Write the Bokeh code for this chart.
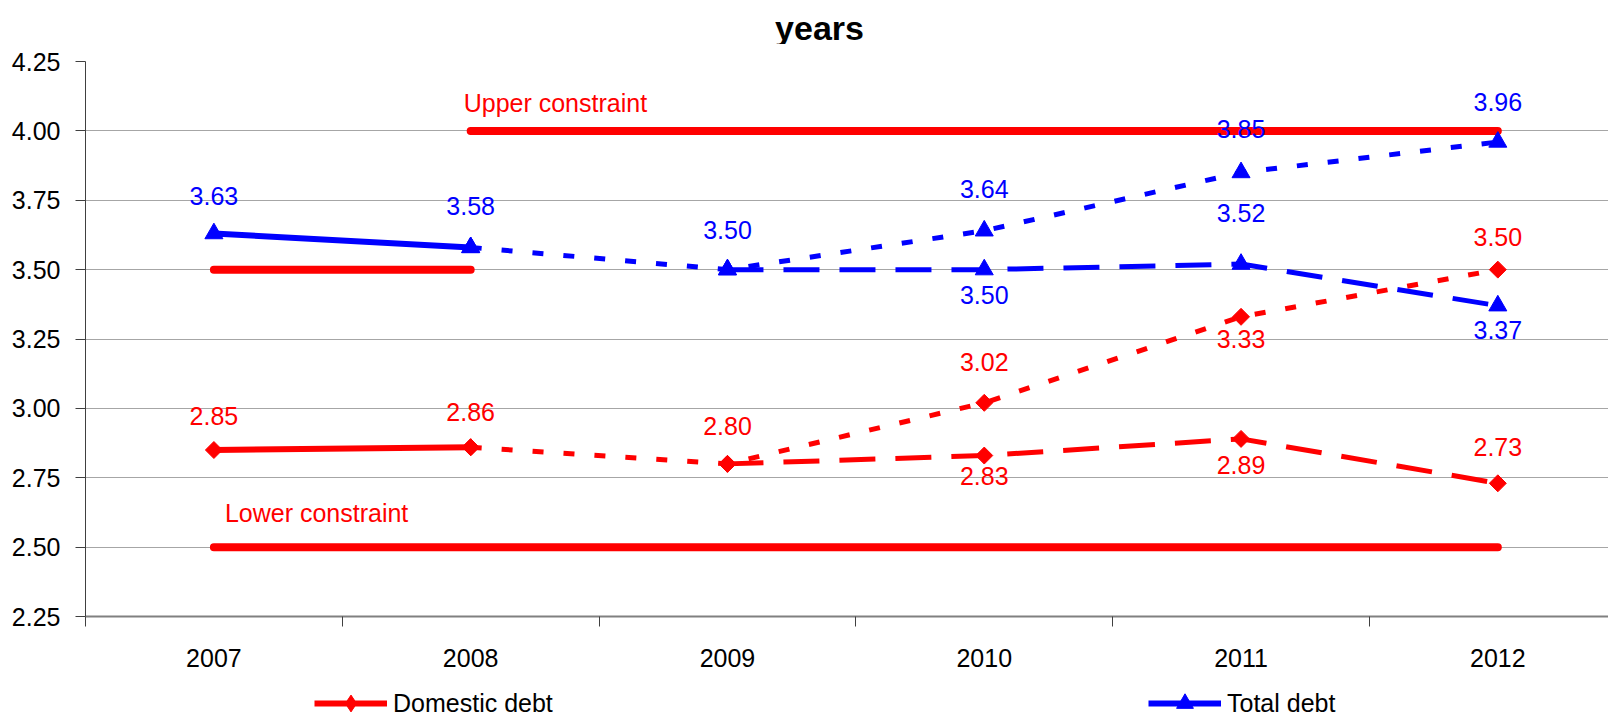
from bokeh.plotting import figure
from bokeh.layouts import column
from bokeh.models import Range1d, FixedTicker, ColumnDataSource, Legend, LegendItem, PrintfTickFormatter, Label
from bokeh.core.properties import value
from bokeh.embed import file_html
from bokeh.resources import INLINE

# ---------------- data ----------------
years = ["2007", "2008", "2009", "2010", "2011", "2012"]
y_ticks = [2.25, 2.50, 2.75, 3.00, 3.25, 3.50, 3.75, 4.00, 4.25]

# Domestic debt (years 2007-2008 actual, then two scenarios)
domestic_actual_years = ["2007", "2008"]
domestic_actual = [2.85, 2.86]
domestic_up_years = ["2008", "2009", "2010", "2011", "2012"]
domestic_up = [2.86, 2.80, 3.02, 3.33, 3.50]
domestic_low_years = ["2009", "2010", "2011", "2012"]
domestic_low = [2.80, 2.83, 2.89, 2.73]

# Total debt
total_actual_years = ["2007", "2008"]
total_actual = [3.63, 3.58]
total_up_years = ["2008", "2009", "2010", "2011", "2012"]
total_up = [3.58, 3.50, 3.64, 3.85, 3.96]
total_low_years = ["2009", "2010", "2011", "2012"]
total_low = [3.50, 3.50, 3.52, 3.37]

# Constraints
upper_a_years = ["2007", "2008"]
upper_a = [3.50, 3.50]
upper_b_years = ["2008", "2009", "2010", "2011", "2012"]
upper_b = [4.00, 4.00, 4.00, 4.00, 4.00]
lower_years = ["2007", "2008", "2009", "2010", "2011", "2012"]
lower = [2.50, 2.50, 2.50, 2.50, 2.50, 2.50]

# label vertical offsets (px, style only)
dom_label_off = {"actual": [-34, -35], "up": [None, -38, -41, 22, -33], "low": [None, 20, 26, -36]}
tot_label_off = {"actual": [-38, -41], "up": [None, -40, -42, -44, -40], "low": [None, 25, -51, 24]}

TITLE = "years"
FONT = "Liberation Sans"
FS = "25px"
RED = "#FF0000"
BLUE = "#0000FF"


def xs(ys):
    return [years.index(y) + 0.5 for y in ys]


def blank(fig):
    fig.axis.visible = False
    fig.grid.visible = False
    fig.outline_line_color = None
    fig.border_fill_color = "white"
    fig.background_fill_color = "white"


# ---------------- title row ----------------
tfig = figure(width=1608, height=44, output_backend="svg", toolbar_location=None, title=None,
              x_range=Range1d(0, 1523), y_range=Range1d(0, 44),
              min_border_left=0, min_border_right=0, min_border_top=0, min_border_bottom=0)
blank(tfig)
tfig.add_layout(Label(x=734, y=17, text=TITLE, text_font=FONT, text_font_style="bold",
                      text_font_size="34px", text_color="black", text_align="center",
                      text_baseline="alphabetic"))

# ---------------- main chart ----------------
p = figure(width=1608, height=628, output_backend="svg", toolbar_location=None,
           x_range=Range1d(0, 5.931), y_range=Range1d(2.25, 4.25),
           min_border_left=85, min_border_right=0, min_border_top=17, min_border_bottom=56)
p.outline_line_color = None
p.background_fill_color = "white"
p.border_fill_color = "white"

# axes
p.yaxis.ticker = FixedTicker(ticks=y_ticks)
p.yaxis.formatter = PrintfTickFormatter(format="%.2f")
p.yaxis.major_label_text_font = FONT
p.yaxis.major_label_text_font_size = FS
p.yaxis.major_label_text_color = "black"
p.yaxis.major_tick_out = 10
p.yaxis.major_tick_in = 0
p.yaxis.minor_tick_out = 0
p.yaxis.major_label_standoff = 15
p.yaxis.axis_line_color = "#404040"
p.yaxis.major_tick_line_color = "#404040"

centers = [i + 0.5 for i in range(len(years))]
bounds = [float(i) for i in range(len(years) + 1)]
p.xaxis.ticker = FixedTicker(ticks=centers, minor_ticks=bounds)
p.xaxis.major_label_overrides = {c: y for c, y in zip(centers, years)}
p.xaxis.major_label_text_font = FONT
p.xaxis.major_label_text_font_size = FS
p.xaxis.major_label_text_color = "black"
p.xaxis.major_tick_out = 0
p.xaxis.major_tick_in = 0
p.xaxis.minor_tick_out = 10
p.xaxis.minor_tick_in = 0
p.xaxis.minor_tick_line_color = "#404040"
p.xaxis.major_label_standoff = 22
p.xaxis.axis_line_color = "#808080"
p.xaxis.axis_line_width = 2

p.xgrid.grid_line_color = None
p.ygrid.ticker = FixedTicker(ticks=y_ticks)
p.ygrid.grid_line_color = "#a6a6a6"
p.ygrid.grid_line_width = 1

# constraints
for yy, vv in [(upper_a_years, upper_a), (upper_b_years, upper_b), (lower_years, lower)]:
    p.line(xs(yy), vv, line_color=RED, line_width=8, line_cap="round")

DOT = "11 20"
LDASH = "36 20"

# series lines
p.line(xs(domestic_actual_years), domestic_actual, line_color=RED, line_width=6)
p.line(xs(domestic_up_years), domestic_up, line_color=RED, line_width=5, line_dash=DOT)
p.line(xs(domestic_low_years), domestic_low, line_color=RED, line_width=5, line_dash=LDASH)
p.line(xs(total_actual_years), total_actual, line_color=BLUE, line_width=6)
p.line(xs(total_up_years), total_up, line_color=BLUE, line_width=5, line_dash=DOT)
p.line(xs(total_low_years), total_low, line_color=BLUE, line_width=5, line_dash=LDASH)

# markers
dom_x = xs(domestic_actual_years) + xs(domestic_up_years) + xs(domestic_low_years)
dom_y = domestic_actual + domestic_up + domestic_low
tot_x = xs(total_actual_years) + xs(total_up_years) + xs(total_low_years)
tot_y = total_actual + total_up + total_low
p.scatter(dom_x, dom_y, marker="square", angle=0.785398, size=12, fill_color=RED, line_color=RED)
p.scatter(tot_x, tot_y, marker="triangle", size=18, fill_color=BLUE, line_color=BLUE)


# data labels
def label_source(groups):
    lx, ly, lt, lo = [], [], [], []
    for yrs, vals, offs in groups:
        for y, v, o in zip(yrs, vals, offs):
            if o is None:
                continue
            lx.append(years.index(y) + 0.5)
            ly.append(v)
            lt.append(f"{v:.2f}")
            lo.append(o)
    return ColumnDataSource(dict(x=lx, y=ly, t=lt, o=lo))


dom_src = label_source([(domestic_actual_years, domestic_actual, dom_label_off["actual"]),
                        (domestic_up_years, domestic_up, dom_label_off["up"]),
                        (domestic_low_years, domestic_low, dom_label_off["low"])])
tot_src = label_source([(total_actual_years, total_actual, tot_label_off["actual"]),
                        (total_up_years, total_up, tot_label_off["up"]),
                        (total_low_years, total_low, tot_label_off["low"])])
for src, col in [(dom_src, RED), (tot_src, BLUE)]:
    p.text(x="x", y="y", text="t", y_offset="o", source=src, text_color=col,
           text_font=value(FONT), text_font_size=FS,
           text_align="center", text_baseline="middle")

# constraint texts
p.text(x=[years.index(upper_b_years[0]) + 0.5], y=[upper_b[0]], text=["Upper constraint"],
       x_offset=-7, y_offset=-28, text_color=RED, text_font=value(FONT), text_font_size=FS,
       text_align="left", text_baseline="middle")
p.text(x=[years.index(lower_years[0]) + 0.5], y=[lower[0]], text=["Lower constraint"],
       x_offset=11, y_offset=-34, text_color=RED, text_font=value(FONT), text_font_size=FS,
       text_align="left", text_baseline="middle")

# ---------------- legend row ----------------
# (same series drawn off-range so that only the legend glyphs show)
leg = figure(width=1608, height=43, output_backend="svg", toolbar_location=None, title=None,
             x_range=Range1d(0, 1), y_range=Range1d(0, 1),
             min_border_left=0, min_border_right=0, min_border_top=0, min_border_bottom=0)
blank(leg)

for label, col, marker, xloc, syears, svals in [
        ("Domestic debt", RED, "diamond", 229, domestic_actual_years, domestic_actual),
        ("Total debt", BLUE, "triangle", 1063, total_actual_years, total_actual)]:
    rl = leg.line(xs(syears), svals, line_color=col, line_width=6)
    rm = leg.scatter(xs(syears), svals, marker=marker, size=18, fill_color=col, line_color=col)
    lg = Legend(items=[LegendItem(label=label, renderers=[rl, rm])], location=(xloc, -9),
                orientation="horizontal", glyph_width=73, glyph_height=42, label_height=42,
                label_standoff=6, padding=0, margin=0, border_line_color=None,
                background_fill_alpha=0, label_text_font=FONT, label_text_font_size=FS,
                label_text_color="black", label_text_baseline="middle")
    leg.add_layout(lg)

layout = column(tfig, p, leg, spacing=0)
open("out.html", "w").write(file_html(layout, INLINE))
